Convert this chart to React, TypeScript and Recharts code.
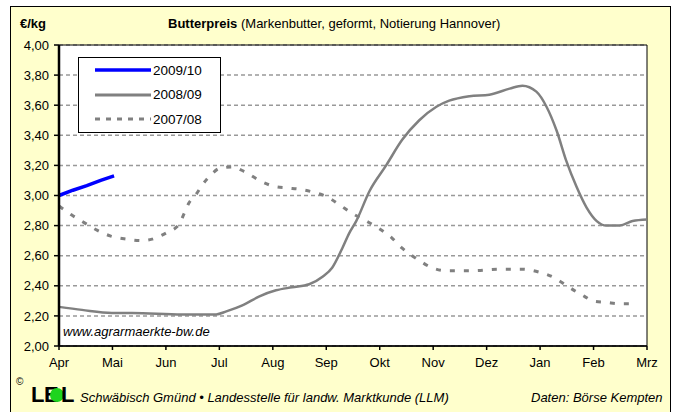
import { LineChart, Line, XAxis, YAxis, CartesianGrid, ReferenceArea } from "recharts";

const monthLabels = ["Apr", "Mai", "Jun", "Jul", "Aug", "Sep", "Okt", "Nov", "Dez", "Jan", "Feb", "Mrz"];
const yTicks = [2.0, 2.2, 2.4, 2.6, 2.8, 3.0, 3.2, 3.4, 3.6, 3.8, 4.0];

// x = months after the start of April
const x2009 = [0, 0.26, 0.52, 0.78, 1.03];
const price2009 = [3.0, 3.035, 3.065, 3.1, 3.13];

const x2008 = [0, 0.43, 0.99, 1.37, 2.3, 2.94, 3.13, 3.43, 3.75, 4.06, 4.36, 4.68, 4.93, 5.11, 5.3, 5.43, 5.56, 5.81, 6.12, 6.42, 6.74, 7.06, 7.3, 7.68, 8.05, 8.43, 8.67, 8.93, 9.12, 9.31, 9.49, 9.68, 9.87, 10.06, 10.24, 10.49, 10.73, 11];
const price2008 = [2.26, 2.24, 2.22, 2.22, 2.21, 2.21, 2.23, 2.27, 2.33, 2.37, 2.39, 2.41, 2.46, 2.52, 2.65, 2.75, 2.83, 3.03, 3.2, 3.37, 3.5, 3.59, 3.63, 3.66, 3.67, 3.71, 3.73, 3.69, 3.59, 3.43, 3.23, 3.06, 2.92, 2.83, 2.8, 2.8, 2.83, 2.84];

const x2007 = [0, 0.24, 0.47, 0.71, 0.97, 1.27, 1.54, 1.74, 2.0, 2.25, 2.34, 2.43, 2.57, 2.68, 2.85, 3.0, 3.24, 3.46, 3.75, 4.03, 4.27, 4.53, 4.78, 5.02, 5.24, 5.49, 5.75, 5.99, 6.22, 6.42, 6.69, 6.98, 7.25, 7.73, 8.24, 8.67, 8.99, 9.23, 9.46, 9.68, 9.83, 9.98, 10.24, 10.49, 10.81];
const price2007 = [2.93, 2.87, 2.82, 2.77, 2.73, 2.71, 2.7, 2.71, 2.75, 2.81, 2.88, 2.95, 3.01, 3.07, 3.14, 3.18, 3.19, 3.16, 3.1, 3.06, 3.05, 3.04, 3.02, 2.99, 2.94, 2.88, 2.83, 2.78, 2.72, 2.65, 2.58, 2.52, 2.5, 2.5, 2.51, 2.51, 2.49, 2.46, 2.41, 2.36, 2.33, 2.3, 2.29, 2.28, 2.28];

const seriesNames = ["2009/10", "2008/09", "2007/08"];
const seriesColors = ["#0000ff", "#808080", "#808080"];
const seriesDash = [undefined, undefined, "5 9"];
const legendDash = [undefined, undefined, "5 6"];
const seriesWidth = [3.5, 2.5, 3];

const toPoints = (xs: number[], ys: number[]) => xs.map((m, i) => ({ m, v: ys[i] }));
const seriesData = [toPoints(x2009, price2009), toPoints(x2008, price2008), toPoints(x2007, price2007)];

const FONT = "'Liberation Sans', Arial, sans-serif";
const fmt = (v: number) => v.toFixed(2).replace(".", ",");

const abs = (left: number, top: number, extra: React.CSSProperties = {}): React.CSSProperties => ({
  position: "absolute", left, top, whiteSpace: "nowrap", ...extra,
});

export default function App() {
  return (
    <div style={{ position: "absolute", left: 0, top: 0, width: 674, height: 412, overflow: "hidden", fontFamily: FONT, color: "#000" }}>
      <div style={{ position: "absolute", left: 10, top: 6, width: 659, height: 420, background: "#ffffcc", border: "1px solid #000" }} />

      <div style={abs(20, 16, { fontSize: 13, fontWeight: 700 })}>€/kg</div>
      <div style={abs(168, 16, { fontSize: 13 })}>
        <b>Butterpreis</b> (Markenbutter, geformt, Notierung Hannover)
      </div>

      <div style={{ position: "absolute", left: 0, top: 0 }}>
        <LineChart width={674} height={412} margin={{ top: 45, right: 27, bottom: 36, left: 9 }}>
          <CartesianGrid vertical={false} fill="#ffffff" stroke="#999" strokeDasharray="4 3" strokeWidth={1.5} />
          <XAxis
            type="number" dataKey="m" domain={[0, 11]} ticks={monthLabels.map((_, i) => i)}
            tickFormatter={(i: number) => monthLabels[i]} height={30} interval={0}
            axisLine={{ stroke: "#000", strokeWidth: 1.5 }} tickLine={{ stroke: "#000", strokeWidth: 1.5 }}
            tickSize={4} tickMargin={8} tick={{ fontSize: 13, fill: "#000", fontFamily: FONT }}
          />
          <YAxis
            type="number" domain={[2, 4]} ticks={yTicks} tickFormatter={fmt} width={50} interval={0}
            axisLine={{ stroke: "#000", strokeWidth: 2.5 }} tickLine={{ stroke: "#000", strokeWidth: 1.5 }}
            tickSize={5} tickMargin={5} tick={{ fontSize: 13, fill: "#000", fontFamily: FONT }}
          />
          <ReferenceArea x1={0} x2={11} y1={2} y2={4} fill="none" stroke="#000" strokeWidth={1} />
          {[2, 1, 0].map((s) => (
            <Line
              key={seriesNames[s]} data={seriesData[s]} dataKey="v" name={seriesNames[s]}
              type={s === 0 ? "linear" : "monotone"} stroke={seriesColors[s]} strokeWidth={seriesWidth[s]}
              strokeDasharray={seriesDash[s]} dot={false} isAnimationActive={false}
            />
          ))}
        </LineChart>
      </div>

      <div style={abs(63, 324, { fontSize: 13, fontStyle: "italic" })}>www.agrarmaerkte-bw.de</div>

      <div style={{ position: "absolute", left: 78, top: 57, width: 141, height: 74, background: "#fff", border: "1px solid #000" }}>
        {seriesNames.map((name, i) => (
          <div key={name} style={abs(0, 2 + i * 24.5, { height: 20, display: "flex", alignItems: "center" })}>
            <svg width={74} height={20}>
              <line x1={16} x2={72} y1={10} y2={10} stroke={seriesColors[i]} strokeWidth={i === 0 ? 3.5 : 3} strokeDasharray={legendDash[i]} />
            </svg>
            <span style={{ fontSize: 13.5 }}>{name}</span>
          </div>
        ))}
      </div>

      <div style={abs(16, 376, { fontSize: 10 })}>©</div>
      <div style={abs(31, 382, { fontSize: 22, fontWeight: 900 })}>L</div>
      <div style={abs(44, 382, { fontSize: 22, fontWeight: 900 })}>E</div>
      <div style={{ position: "absolute", left: 50, top: 388, width: 14, height: 14, borderRadius: "50%", background: "#1ed41e" }} />
      <div style={abs(61, 382, { fontSize: 22, fontWeight: 900 })}>L</div>
      <div style={abs(80, 390, { fontSize: 13, fontStyle: "italic" })}>
        Schwäbisch Gmünd • Landesstelle für landw. Marktkunde (LLM)
      </div>
      <div style={abs(531, 390, { fontSize: 13, fontStyle: "italic" })}>Daten: Börse Kempten</div>
    </div>
  );
}
